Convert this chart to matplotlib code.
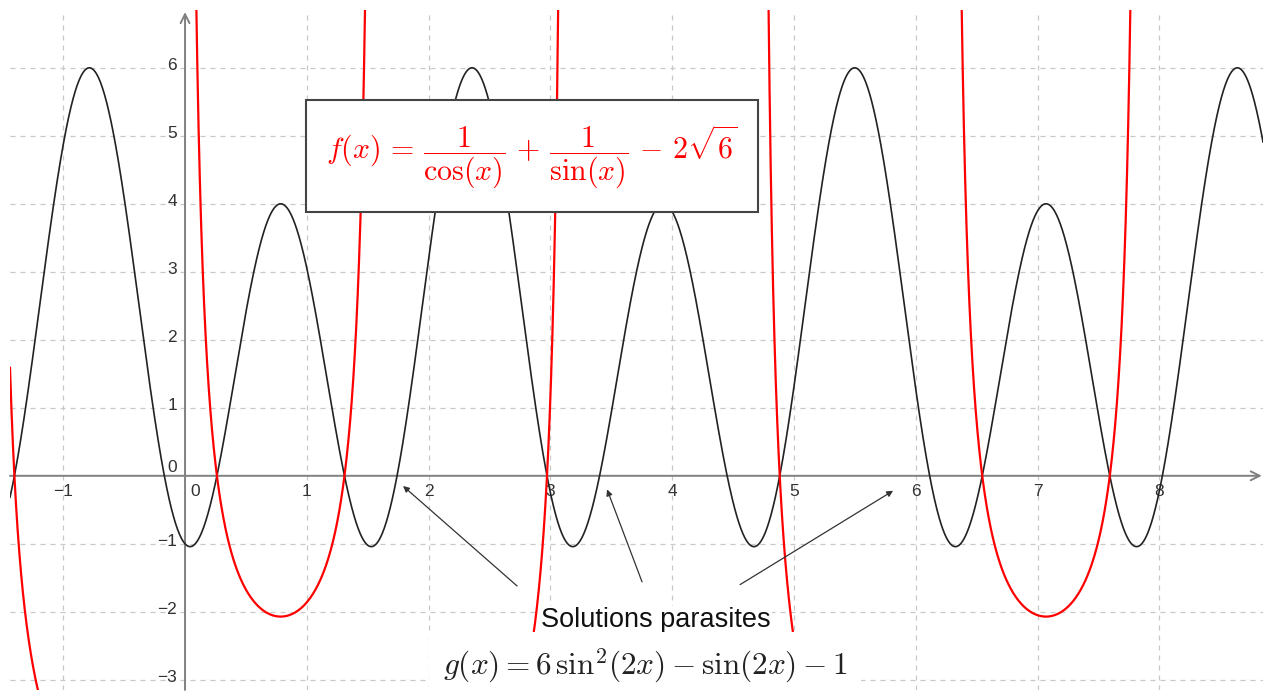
import numpy as np
import matplotlib
matplotlib.use("Agg")
import matplotlib.pyplot as plt
from matplotlib.transforms import offset_copy
from matplotlib.patches import Rectangle

plt.rcParams['font.family'] = ['Liberation Sans', 'DejaVu Sans']
plt.rcParams['mathtext.fontset'] = 'cm'

# ---- chart content -------------------------------------------------------
# g(x) = a*sin^2(k x) + b*sin(k x) + c
g_coeffs = [6, -1, -1]
g_freq = 2
# f(x) = 1/cos(x) + 1/sin(x) - 2*sqrt(6)
f_const = 2 * np.sqrt(6)

x_ticks = [-1, 1, 2, 3, 4, 5, 6, 7, 8]
y_ticks = [-3, -2, -1, 1, 2, 3, 4, 5, 6]
x_tick_labels = ["\u22121", "1", "2", "3", "4", "5", "6", "7", "8"]
y_tick_labels = ["\u22123", "\u22122", "\u22121", "1", "2", "3", "4", "5", "6"]

annotation_text = "Solutions parasites"
f_label = r"$f(x)\,=\,\dfrac{1}{\cos(x)}\,+\,\dfrac{1}{\sin(x)}\,-\,2\sqrt{6}$"
g_label = r"$g(x) = 6\,\sin^{2}\!(2x) - \sin(2x) - 1$"

# ---- figure --------------------------------------------------------------
W, H = 1268, 694
fig = plt.figure(figsize=(W / 100, H / 100), dpi=100)
ax = fig.add_axes([10 / W, 4 / H, 1253 / W, 680 / H])
XMIN, XMAX = -1.437, 8.85
YMIN, YMAX = -3.15, 6.85
ax.set_xlim(XMIN, XMAX)
ax.set_ylim(YMIN, YMAX)
ax.axis('off')

# grid
grid_kw = dict(color='#c8c8c8', lw=0.9, ls=(0, (4, 4)), zorder=0)
for gx in [-1, 1, 2, 3, 4, 5, 6, 7, 8]:
    ax.axvline(gx, **grid_kw)
for gy in [-3, -2, -1, 1, 2, 3, 4, 5, 6]:
    ax.axhline(gy, **grid_kw)

# axes with arrows
axis_col = '#808080'
ax.annotate('', xy=(XMAX - 0.01, 0), xytext=(XMIN, 0),
            arrowprops=dict(arrowstyle='->', color=axis_col, lw=1.4,
                            mutation_scale=16, shrinkA=0, shrinkB=0), zorder=1)
ax.annotate('', xy=(0, YMAX - 0.03), xytext=(0, YMIN),
            arrowprops=dict(arrowstyle='->', color=axis_col, lw=1.4,
                            mutation_scale=16, shrinkA=0, shrinkB=0), zorder=1)

# tick labels
tick_fs = 12.5
tick_col = '#333333'
tx = offset_copy(ax.transData, fig=fig, x=0, y=-16, units='dots')
for v, lab in zip(x_ticks, x_tick_labels):
    ax.text(v, 0, lab, transform=tx, ha='center', va='center',
            fontsize=tick_fs, color=tick_col)
ty = offset_copy(ax.transData, fig=fig, x=-8, y=2, units='dots')
for v, lab in zip(y_ticks, y_tick_labels):
    ax.text(0, v, lab, transform=ty, ha='right', va='center',
            fontsize=tick_fs, color=tick_col)
ax.text(0, 0, "0", transform=offset_copy(ax.transData, fig=fig, x=-8, y=8, units='dots'),
        ha='right', va='center', fontsize=tick_fs, color=tick_col)
ax.text(0, 0, "0", transform=offset_copy(ax.transData, fig=fig, x=10, y=-16, units='dots'),
        ha='center', va='center', fontsize=tick_fs, color=tick_col)

# ---- curves --------------------------------------------------------------
xs = np.linspace(XMIN, XMAX, 40000)
s2 = np.sin(g_freq * xs)
g = g_coeffs[0] * s2 ** 2 + g_coeffs[1] * s2 + g_coeffs[2]
ax.plot(xs, g, color='#222222', lw=1.2, zorder=3)

with np.errstate(divide='ignore'):
    f = 1 / np.cos(xs) + 1 / np.sin(xs) - f_const
f[np.abs(f) > 30] = np.nan
ax.plot(xs, f, color='#ff0000', lw=1.6, zorder=3)

# ---- formula box ---------------------------------------------------------
x0, x1 = 0.993, 4.705
y0, y1 = 3.88, 5.53
ax.add_patch(Rectangle((x0, y0), x1 - x0, y1 - y0, facecolor='white',
                       edgecolor='#444444', lw=1.5, zorder=5))
ax.text((x0 + x1) / 2, (y0 + y1) / 2 - 0.02, f_label, ha='center', va='center',
        color='#ff0000', fontsize=21.5, zorder=6)

# ---- annotations ---------------------------------------------------------
arrow_kw = dict(arrowstyle='-|>', color='#333333', lw=0.9, mutation_scale=9,
                shrinkA=0, shrinkB=0)
arrows = [((2.726, -1.62), (1.79, -0.15)),
          ((3.752, -1.56), (3.465, -0.20)),
          ((4.557, -1.60), (5.813, -0.22))]
for tail, head in arrows:
    ax.annotate('', xy=head, xytext=tail, arrowprops=arrow_kw, zorder=4)

ax.text(3.867, -2.12, annotation_text, ha='center', va='center',
        fontsize=19.5, color='#111111', zorder=6,
        bbox=dict(facecolor='white', edgecolor='none', pad=1))
ax.text(3.777, -2.79, g_label, ha='center', va='center', fontsize=22.5,
        color='#222222', zorder=6,
        bbox=dict(facecolor='white', edgecolor='none',
                  boxstyle='square,pad=0.45'))

fig.savefig('out.png', dpi=100, facecolor='white')
